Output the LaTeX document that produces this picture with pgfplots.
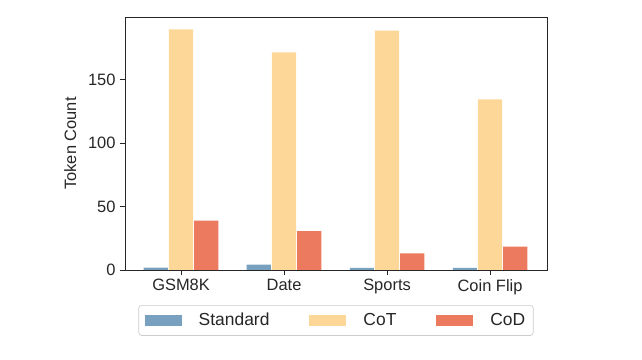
\documentclass[border=0pt]{standalone}
\usepackage{pgfplots}
\pgfplotsset{compat=1.18}
\usepackage{fontspec}
\setmainfont{Liberation Sans}
\definecolor{cstd}{RGB}{119,161,190}
\definecolor{ccot}{RGB}{253,215,151}
\definecolor{ccod}{RGB}{236,122,94}
\definecolor{axc}{RGB}{38,38,38}
\definecolor{legc}{RGB}{204,204,204}
\begin{document}
\begin{tikzpicture}[x=1bp,y=1bp]
\begin{axis}[
  name=ax,
  scale only axis,
  width=422bp, height=253bp,
  xmin=-0.544, xmax=3.553,
  ymin=0, ymax=199.2,
  xtick={0,1,2,3},
  xticklabels={GSM8K,Date,Sports,Coin Flip},
  ytick={0,50,100,150},
  axis line style={axc, line width=0.9bp},
  tick style={axc, line width=0.9bp},
  tick align=outside,
  major tick length=5bp,
  xtick pos=bottom, ytick pos=left,
  ticklabel style={font=\fontsize{16.5}{19}\selectfont, text=axc},
  /pgf/number format/assume math mode=true,
  xticklabel style={yshift=-1bp},
  yticklabel style={xshift=-1bp},
  ylabel={Token Count},
  every axis y label/.style={at={(axis description cs:-0.130,0.5)}, rotate=90, anchor=center,
    font=\fontsize{16.5}{19}\selectfont, text=axc},
  bar width=0.234,
  area legend,
  legend columns=3,
  legend style={at={(0.5,0)}, anchor=north, yshift=-35bp,
    draw=legc, rounded corners=3bp, line width=0.7bp,
    font=\fontsize{17.5}{20}\selectfont, text=axc,
    inner xsep=6bp, inner ysep=6bp,
    /tikz/every odd column/.append style={column sep=15bp},
    /tikz/every even column/.append style={column sep=38bp}},
  legend image code/.code={\fill[#1, draw=none, sharp corners] (0bp,-5.5bp) rectangle (37bp,5.5bp);},
  legend cell align=left,
]
\addplot[ybar, bar shift=-0.245, fill=cstd, draw=none] coordinates {(0,1.8) (1,4.2) (2,1.7) (3,1.7)};
\addplot[ybar, bar shift=0, fill=ccot, draw=none] coordinates {(0,189.5) (1,171.4) (2,188.4) (3,134.4)};
\addplot[ybar, bar shift=0.245, fill=ccod, draw=none] coordinates {(0,38.8) (1,30.7) (2,13.1) (3,18.4)};
\legend{Standard,CoT,CoD}
\end{axis}
\path (ax.south west) ++(-125bp,-90bp) rectangle ++(642bp,360bp);
\end{tikzpicture}
\end{document}
